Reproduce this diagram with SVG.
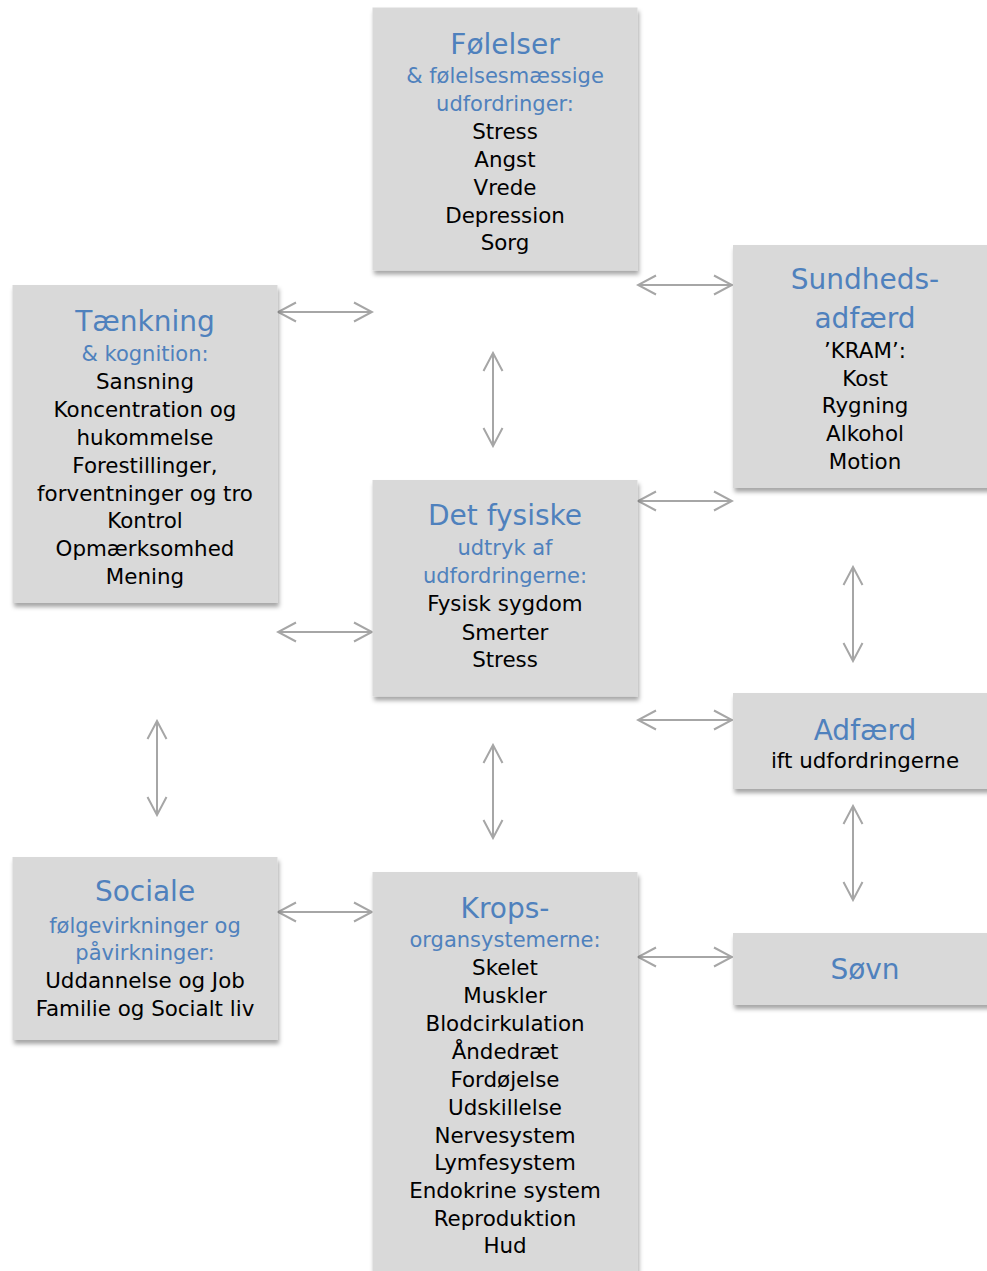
<svg xmlns="http://www.w3.org/2000/svg" width="987" height="1271" viewBox="0 0 987 1271">
<style>
.box{fill:#d9d9d9;filter:url(#sh)}
text{font-family:"DejaVu Sans","Liberation Sans",sans-serif;text-anchor:middle}
.t{font-size:28px;fill:#4f81bd}
.s{font-size:21px;fill:#4f81bd}
.i{font-size:21.4px;fill:#000}
.c line{stroke:#a6a6a6;stroke-width:2;fill:none;marker-start:url(#ah);marker-end:url(#ah)}
</style>
<defs>
<filter id="sh" x="-10%" y="-10%" width="125%" height="125%">
<feDropShadow dx="1.5" dy="4" stdDeviation="2" flood-color="#000" flood-opacity="0.35"/>
</filter>
<marker id="ah" viewBox="-20 -12 22 24" markerWidth="22" markerHeight="24" refX="0" refY="0" orient="auto-start-reverse" markerUnits="userSpaceOnUse">
<path d="M-18,-9.5 L0,0 L-18,9.5" fill="none" stroke="#a6a6a6" stroke-width="2"/>
</marker>
</defs>
<g id="connectors" class="c">
<line x1="278" y1="312" x2="372" y2="312"/>
<line x1="638" y1="285" x2="732" y2="285"/>
<line x1="493" y1="353" x2="493" y2="446"/>
<line x1="638" y1="501" x2="732" y2="501"/>
<line x1="278" y1="632" x2="372" y2="632"/>
<line x1="853" y1="567" x2="853" y2="661"/>
<line x1="638" y1="720" x2="732" y2="720"/>
<line x1="157" y1="721" x2="157" y2="815"/>
<line x1="493" y1="745" x2="493" y2="838"/>
<line x1="278" y1="912" x2="372" y2="912"/>
<line x1="853" y1="806" x2="853" y2="900"/>
<line x1="638" y1="957" x2="732" y2="957"/>
</g>
<g id="folelser">
<rect class="box" x="372.5" y="7.5" width="265" height="263"/>
<text class="t" x="505" y="54">Følelser</text>
<text class="s" x="505" y="83">&amp; følelsesmæssige</text>
<text class="s" x="505" y="111">udfordringer:</text>
<text class="i" x="505" y="139">Stress</text>
<text class="i" x="505" y="167">Angst</text>
<text class="i" x="505" y="195">Vrede</text>
<text class="i" x="505" y="223">Depression</text>
<text class="i" x="505" y="250">Sorg</text>
</g>
<g id="sundhed">
<rect class="box" x="733" y="245" width="265" height="243"/>
<text class="t" x="865" y="289">Sundheds-</text>
<text class="t" x="865" y="328">adfærd</text>
<text class="i" x="865" y="358">’KRAM’:</text>
<text class="i" x="865" y="386">Kost</text>
<text class="i" x="865" y="413">Rygning</text>
<text class="i" x="865" y="441">Alkohol</text>
<text class="i" x="865" y="469">Motion</text>
</g>
<g id="taenkning">
<rect class="box" x="12.5" y="285" width="265" height="318"/>
<text class="t" x="145" y="331">Tænkning</text>
<text class="s" x="145" y="361">&amp; kognition:</text>
<text class="i" x="145" y="389">Sansning</text>
<text class="i" x="145" y="417">Koncentration og</text>
<text class="i" x="145" y="445">hukommelse</text>
<text class="i" x="145" y="473">Forestillinger,</text>
<text class="i" x="145" y="501">forventninger og tro</text>
<text class="i" x="145" y="528">Kontrol</text>
<text class="i" x="145" y="556">Opmærksomhed</text>
<text class="i" x="145" y="584">Mening</text>
</g>
<g id="fysiske">
<rect class="box" x="372.5" y="480" width="265" height="216.5"/>
<text class="t" x="505" y="525">Det fysiske</text>
<text class="s" x="505" y="555">udtryk af</text>
<text class="s" x="505" y="583">udfordringerne:</text>
<text class="i" x="505" y="611">Fysisk sygdom</text>
<text class="i" x="505" y="640">Smerter</text>
<text class="i" x="505" y="667">Stress</text>
</g>
<g id="adfaerd">
<rect class="box" x="733" y="693" width="265" height="96"/>
<text class="t" x="865" y="740">Adfærd</text>
<text class="i" x="865" y="768">ift udfordringerne</text>
</g>
<g id="sociale">
<rect class="box" x="12.5" y="857" width="265" height="183"/>
<text class="t" x="145" y="901">Sociale</text>
<text class="s" x="145" y="933">følgevirkninger og</text>
<text class="s" x="145" y="960">påvirkninger:</text>
<text class="i" x="145" y="988">Uddannelse og Job</text>
<text class="i" x="145" y="1016">Familie og Socialt liv</text>
</g>
<g id="krops">
<rect class="box" x="372.5" y="872" width="265" height="410"/>
<text class="t" x="505" y="918">Krops-</text>
<text class="s" x="505" y="947">organsystemerne:</text>
<text class="i" x="505" y="975">Skelet</text>
<text class="i" x="505" y="1003">Muskler</text>
<text class="i" x="505" y="1031">Blodcirkulation</text>
<text class="i" x="505" y="1059">Åndedræt</text>
<text class="i" x="505" y="1087">Fordøjelse</text>
<text class="i" x="505" y="1115">Udskillelse</text>
<text class="i" x="505" y="1143">Nervesystem</text>
<text class="i" x="505" y="1170">Lymfesystem</text>
<text class="i" x="505" y="1198">Endokrine system</text>
<text class="i" x="505" y="1226">Reproduktion</text>
<text class="i" x="505" y="1253">Hud</text>
</g>
<g id="sovn">
<rect class="box" x="733" y="933" width="265" height="72"/>
<text class="t" x="865" y="979">Søvn</text>
</g>
</svg>
